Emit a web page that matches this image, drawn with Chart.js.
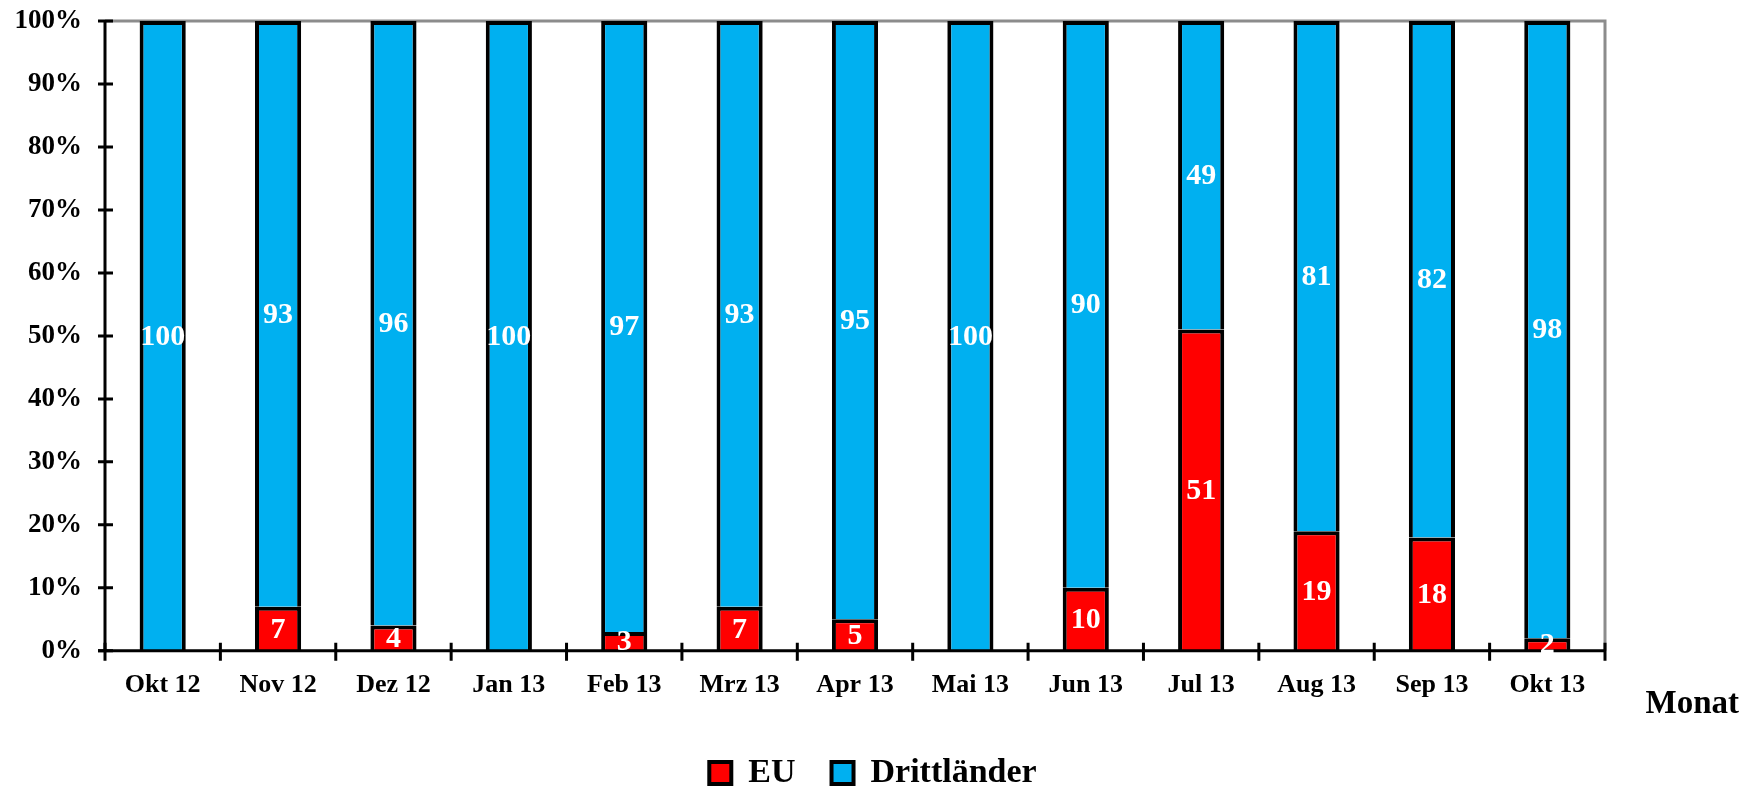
<!DOCTYPE html>
<html>
<head>
<meta charset="utf-8">
<title>EU / Drittländer</title>
<script src="https://cdn.jsdelivr.net/npm/chart.js@4.4.1/dist/chart.umd.min.js"></script>
<style>
  html, body { margin: 0; padding: 0; background: #fff; }
  .chart-wrap { position: relative; width: 1746px; height: 788px; }
</style>
</head>
<body>
<div class="chart-wrap"><canvas id="share-chart"></canvas></div>
<script>
'use strict';

// data (percent shares per month)

const months = ['Okt 12', 'Nov 12', 'Dez 12', 'Jan 13', 'Feb 13', 'Mrz 13', 'Apr 13', 'Mai 13', 'Jun 13', 'Jul 13', 'Aug 13', 'Sep 13', 'Okt 13']
const euShare = [0, 7, 4, 0, 3, 7, 5, 0, 10, 51, 19, 18, 2]
const thirdCountryShare = [100, 93, 96, 100, 97, 93, 95, 100, 90, 49, 81, 82, 98]
const yTicks = [0, 10, 20, 30, 40, 50, 60, 70, 80, 90, 100]
const seriesNames = ['EU', 'Drittländer']
const xAxisTitle = 'Monat'

const serif = '"Liberation Serif", "Times New Roman", serif'

// white numbers in the middle of every segment

const valueLabels = {
    id: 'valueLabels',
    afterDatasetsDraw(chart) {
        const { ctx } = chart
        ctx.save()
        ctx.font = `bold 30px ${serif}`
        ctx.fillStyle = '#ffffff'
        ctx.textAlign = 'center'
        ctx.textBaseline = 'middle'

        chart.data.datasets.forEach((dataset, i) => {
            const meta = chart.getDatasetMeta(i)
            meta.data.forEach((bar, j) => {
                const value = dataset.data[j]
                if (!value) return
                ctx.fillText(String(value), bar.x, (bar.y + bar.base) / 2 + 1)
            })
        })
        ctx.restore()
    }
}

// gray frame top/right, black axes with ticks crossing the axis lines

const axisFrame = {
    id: 'axisFrame',
    beforeDatasetsDraw(chart) {
        const { ctx, chartArea: { left, right, top, bottom } } = chart
        ctx.save()
        ctx.strokeStyle = '#8c8c8c'
        ctx.lineWidth = 3
        ctx.beginPath()
        ctx.moveTo(left, top)
        ctx.lineTo(right, top)
        ctx.lineTo(right, bottom)
        ctx.stroke()
        ctx.restore()
    },
    afterDatasetsDraw(chart) {
        const { ctx, chartArea: { left, right, top, bottom }, scales: { y } } = chart
        ctx.save()
        ctx.strokeStyle = '#000000'
        ctx.lineWidth = 3

        ctx.beginPath()
        ctx.moveTo(left, top)
        ctx.lineTo(left, bottom)
        ctx.moveTo(left - 7, bottom)
        ctx.lineTo(right, bottom)
        ctx.stroke()

        ctx.beginPath()
        yTicks.forEach(value => {
            const py = y.getPixelForValue(value)
            ctx.moveTo(left - 7, py)
            ctx.lineTo(left + 8, py)
        })

        const step = (right - left) / months.length
        for (let i = 0; i <= months.length; i++) {
            const px = left + i * step
            ctx.moveTo(px, bottom - 8)
            ctx.lineTo(px, bottom + 10)
        }
        ctx.stroke()
        ctx.restore()
    },
    afterDraw(chart) {
        const { ctx } = chart
        ctx.save()
        ctx.font = `bold 33px ${serif}`
        ctx.fillStyle = '#000000'
        ctx.textAlign = 'right'
        ctx.textBaseline = 'middle'
        ctx.fillText(xAxisTitle, 1739, 704)
        ctx.restore()
    }
}

const shareChart = new Chart(document.getElementById('share-chart'), {
    type: 'bar',
    data: {
        labels: months,
        datasets: [{
            label: seriesNames[0],
            data: euShare,
            backgroundColor: '#ff0000',
            borderColor: '#000000',
            borderWidth: 4,
            borderSkipped: 'start'
        }, {
            label: seriesNames[1],
            data: thirdCountryShare,
            backgroundColor: '#00b0f0',
            borderColor: '#000000',
            borderWidth: 4,
            borderSkipped: 'start'
        }]
    },
    options: {
        responsive: true,
        maintainAspectRatio: false,
        animation: false,
        datasets: {
            bar: {
                categoryPercentage: 1,
                barPercentage: 0.4
            }
        },
        layout: {
            padding: { left: 0, right: 0, top: 21, bottom: -12 }
        },
        scales: {
            x: {
                stacked: true,
                grid: { display: false, drawTicks: false },
                border: { display: false },
                ticks: {
                    color: '#000000',
                    padding: 19,
                    maxRotation: 0,
                    font: { family: serif, size: 26, weight: 'bold' }
                }
            },
            y: {
                stacked: true,
                min: 0,
                max: 100,
                grid: { display: false, drawTicks: false },
                border: { display: false },
                afterFit: scale => {
                    scale.width = 105
                    scale.paddingTop = 0
                    scale.paddingBottom = 0
                },
                afterBuildTicks: scale => { scale.ticks = yTicks.map(value => ({ value })) },
                ticks: {
                    color: '#000000',
                    padding: 23,
                    font: { family: serif, size: 27, weight: 'bold' },
                    callback: value => `${value}%`
                }
            },
            // empty right-hand space for the "Monat" title, keeps the legend centred on the page
            spacer: {
                type: 'linear',
                position: 'right',
                grid: { display: false, drawTicks: false },
                border: { display: false },
                ticks: { display: false },
                afterFit: scale => { scale.width = 141 }
            }
        },
        plugins: {
            legend: {
                position: 'bottom',
                labels: {
                    color: '#000000',
                    boxWidth: 22,
                    boxHeight: 22,
                    padding: 36,
                    font: { family: serif, size: 34, weight: 'bold' }
                }
            },
            tooltip: { enabled: false }
        }
    },
    plugins: [axisFrame, valueLabels]
})
</script>
</body>
</html>
